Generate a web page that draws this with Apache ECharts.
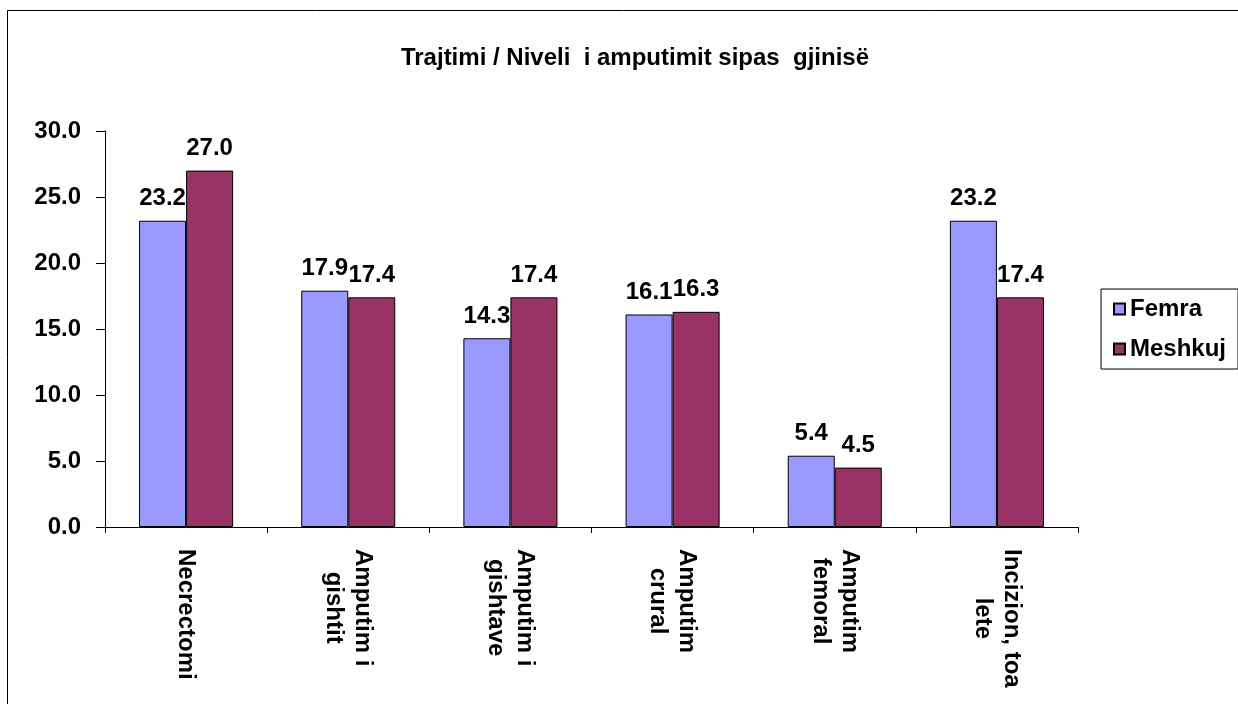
<!DOCTYPE html>
<html>
<head>
<meta charset="utf-8">
<script src="https://cdn.jsdelivr.net/npm/echarts@6/dist/echarts.min.js"></script>
<style>
  html, body { margin: 0; padding: 0; background: #fff; }
  #chart { width: 1238px; height: 704px; }
</style>
</head>
<body>
<div id="chart"></div>
<script>
const categories = ['Necrectomi', 'Amputim i\ngishtit', 'Amputim i\ngishtave', 'Amputim\ncrural', 'Amputim\nfemoral', 'Incizion, toa\nlete'];
const femra = [23.2, 17.9, 14.3, 16.1, 5.4, 23.2];
const meshkuj = [27.0, 17.4, 17.4, 16.3, 4.5, 17.4];
const yTicks = { min: 0, max: 30, interval: 5 };

const FONT = "'Liberation Sans', Arial, sans-serif";
const FS = 24;

const valueLabel = {
    show: true,
    position: 'top',
    distance: 10,
    color: '#000',
    fontFamily: FONT,
    fontWeight: 'bold',
    fontSize: FS,
    formatter: (p) => p.value.toFixed(1)
};

const barSeries = (name, data, color) => ({
    name: name,
    type: 'bar',
    data: data,
    barGap: '0%',
    barCategoryGap: '42%',
    itemStyle: { color: color, borderColor: '#000', borderWidth: 1 },
    label: valueLabel
});

const chart = echarts.init(document.getElementById('chart'));
chart.setOption({
    animation: false,
    backgroundColor: '#fff',
    title: {
        text: 'Trajtimi / Niveli  i amputimit sipas  gjinisë',
        left: 630,
        top: 41,
        textAlign: 'center',
        textStyle: { fontFamily: FONT, fontWeight: 'bold', fontSize: FS, color: '#000' }
    },
    graphic: [{
        type: 'rect',
        shape: { x: 7.5, y: 10.5, width: 1300, height: 800 },
        style: { fill: 'none', stroke: '#000', lineWidth: 1 },
        silent: true
    }],
    legend: {
        orient: 'vertical',
        left: 1101,
        top: 289,
        padding: [8, 12],
        itemGap: 16,
        itemWidth: 11,
        itemHeight: 11,
        icon: 'rect',
        borderColor: '#000',
        borderWidth: 1,
        textStyle: { fontFamily: FONT, fontWeight: 'bold', fontSize: FS, color: '#000' },
        data: ['Femra', 'Meshkuj']
    },
    grid: { left: 105, right: 160, top: 131, bottom: 177, containLabel: false },
    xAxis: {
        type: 'category',
        data: categories,
        axisLine: { lineStyle: { color: '#000', width: 1 } },
        axisTick: { show: true, length: 6, lineStyle: { color: '#000' } },
        axisLabel: {
            rotate: -90,
            margin: 22,
            interval: 0,
            color: '#000',
            fontFamily: FONT,
            fontWeight: 'bold',
            fontSize: FS,
            lineHeight: 29,
            formatter: (v) => v.split('\n').map((s) => '{c|' + s + '}').join('\n'),
            rich: {
                c: { align: 'center', fontFamily: FONT, fontWeight: 'bold', fontSize: FS, color: '#000', lineHeight: 29 }
            }
        }
    },
    yAxis: {
        type: 'value',
        min: yTicks.min,
        max: yTicks.max,
        interval: yTicks.interval,
        axisLine: { show: true, lineStyle: { color: '#000', width: 1 } },
        axisTick: { show: true, length: 9, lineStyle: { color: '#000' } },
        splitLine: { show: false },
        axisLabel: {
            margin: 24,
            color: '#000',
            fontFamily: FONT,
            fontWeight: 'bold',
            fontSize: FS,
            formatter: (v) => v.toFixed(1)
        }
    },
    series: [
        barSeries('Femra', femra, '#9999FF'),
        barSeries('Meshkuj', meshkuj, '#993366')
    ]
});
</script>
</body>
</html>
